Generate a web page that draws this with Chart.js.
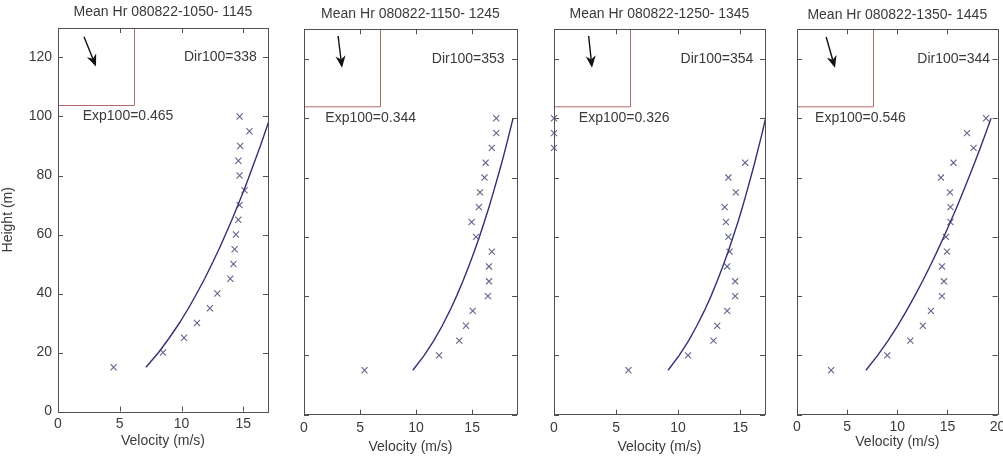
<!DOCTYPE html>
<html>
<head>
<meta charset="utf-8">
<title>Mean hourly wind profiles</title>
<script src="https://cdn.jsdelivr.net/npm/chart.js@4.4.1/dist/chart.umd.min.js"></script>
<style>
  html, body { margin: 0; padding: 0; background: #fff; }
  #wrap { position: relative; width: 1003px; height: 456px; overflow: hidden; }
  #wrap canvas { position: absolute; top: 0; }
</style>
</head>
<body>
<div id="wrap">
  <canvas id="p1" width="282" height="456" style="left:0px"></canvas>
  <canvas id="p2" width="239" height="456" style="left:292px"></canvas>
  <canvas id="p3" width="237" height="456" style="left:542px"></canvas>
  <canvas id="p4" width="218" height="456" style="left:785px"></canvas>
</div>
<script>
// measurement heights (m), shared by every profile
const heights = [15, 20, 25, 30, 35, 40, 45, 50, 55, 60, 65, 70, 75, 80, 85, 90, 95, 100];

const hourTitles = [
  'Mean Hr 080822-1050- 1145',
  'Mean Hr 080822-1150- 1245',
  'Mean Hr 080822-1250- 1345',
  'Mean Hr 080822-1350- 1445'
];
const dir100 = [338, 353, 354, 344];
const exp100 = ['0.465', '0.344', '0.326', '0.546'];
const velMax = [17, 19, 17, 20];

// measured mean velocity (m/s) at each height
const velMeasured1 = [4.5, 8.5, 10.2, 11.25, 12.3, 12.9, 13.95, 14.2, 14.3, 14.4, 14.6, 14.7, 15.1, 14.7, 14.6, 14.75, 15.5, 14.7];
const velMeasured2 = [5.4, 12.05, 13.85, 14.45, 15.05, 16.4, 16.5, 16.5, 16.75, 15.35, 14.95, 15.6, 15.7, 16.1, 16.2, 16.75, 17.15, 17.15];
const velMeasured3 = [6.0, 10.8, 12.85, 13.15, 13.95, 14.6, 14.6, 13.95, 14.15, 14.05, 13.85, 13.75, 14.65, 14.05, 15.4, 0, 0, 0];
const velMeasured4 = [3.4, 9.0, 11.3, 12.55, 13.35, 14.45, 14.65, 14.45, 14.95, 14.85, 15.3, 15.3, 15.25, 14.35, 15.6, 17.6, 16.95, 18.85];

// power-law fit curves
const velFit1 = [7.12, 8.14, 9.02, 9.83, 10.56, 11.23, 11.87, 12.46, 13.03, 13.56, 14.08, 14.57, 15.05, 15.50, 15.94, 16.38, 16.79, 17.2];
const velFit2 = [9.71, 10.72, 11.58, 12.33, 13.00, 13.61, 14.17, 14.69, 15.18, 15.65, 16.08, 16.50, 16.89, 17.27, 17.64, 17.99, 18.32, 18.65];
const velFit3 = [9.19, 10.09, 10.85, 11.51, 12.11, 12.65, 13.14, 13.60, 14.03, 14.43, 14.82, 15.18, 15.52, 15.85, 16.17, 16.47, 16.77, 17.05];
const velFit4 = [6.87, 8.04, 9.08, 10.03, 10.91, 11.73, 12.51, 13.25, 13.96, 14.64, 15.29, 15.93, 16.54, 17.13, 17.71, 18.27, 18.82, 19.35];

const measured = [velMeasured1, velMeasured2, velMeasured3, velMeasured4];
const fits = [velFit1, velFit2, velFit3, velFit4];

const FONT = 'Liberation Sans, Arial, sans-serif';
const TEXT = '#3a3a3a';

// per panel layout
const panels = [
  { id: 'p1', yW: 58, padR: 14, tTop: 3.6, tBot: 7.6, xH: 44.5, tickPad: 4, xTitlePad: 6.6, showY: true, expX: 2.0 },
  { id: 'p2', yW: 12, padR: 14, tTop: 5.4, tBot: 7.1, xH: 41.3, tickPad: 5.2, xTitlePad: 0.9, showY: false, expX: 1.9 },
  { id: 'p3', yW: 12, padR: 14, tTop: 5.6, tBot: 6.9, xH: 41.3, tickPad: 5.2, xTitlePad: 0, showY: false, expX: 2.0 },
  { id: 'p4', yW: 12, padR: 2.5, tTop: 6.6, tBot: 5.9, xH: 41.3, tickPad: 3.6, xTitlePad: 5.5, showY: false, expX: 1.8 }
];

// frame, inward ticks, direction inset and annotation text
const profileDecor = {
  id: 'profileDecor',
  afterDatasetsDraw(chart, args, o) {
    const { ctx, chartArea: a, scales: { x, y } } = chart;
    ctx.save();

    // direction inset
    const bw = 76, bh = 77;
    ctx.strokeStyle = 'rgb(180,105,105)';
    ctx.lineWidth = 1;
    ctx.beginPath();
    ctx.moveTo(a.left + bw + 0.5, a.top);
    ctx.lineTo(a.left + bw + 0.5, a.top + bh + 0.5);
    ctx.lineTo(a.left, a.top + bh + 0.5);
    ctx.stroke();

    const ang = (o.dir + 180) * Math.PI / 180;
    const dx = Math.sin(ang), dy = -Math.cos(ang);
    const hx = a.left + bw / 2, hy = a.top + bh / 2;
    const len = 32, headL = 12, headW = 5;
    ctx.strokeStyle = '#111';
    ctx.fillStyle = '#111';
    ctx.lineWidth = 1.4;
    ctx.beginPath();
    ctx.moveTo(hx - dx * len, hy - dy * len);
    ctx.lineTo(hx - dx * headL * 0.7, hy - dy * headL * 0.7);
    ctx.stroke();
    ctx.beginPath();
    ctx.moveTo(hx, hy);
    ctx.lineTo(hx - dx * headL - dy * headW, hy - dy * headL + dx * headW);
    ctx.lineTo(hx - dx * headL * 0.7, hy - dy * headL * 0.7);
    ctx.lineTo(hx - dx * headL + dy * headW, hy - dy * headL - dx * headW);
    ctx.closePath();
    ctx.fill();

    // axes box
    ctx.strokeStyle = '#505050';
    ctx.lineWidth = 1;
    ctx.strokeRect(Math.round(a.left) + 0.5, Math.round(a.top) + 0.5,
      Math.round(a.right - a.left), Math.round(a.bottom - a.top));

    // inward tick marks on all four sides
    const tl = 5;
    ctx.beginPath();
    x.ticks.forEach(t => {
      const px = Math.round(x.getPixelForValue(t.value)) + 0.5;
      ctx.moveTo(px, a.bottom); ctx.lineTo(px, a.bottom - tl);
      ctx.moveTo(px, a.top); ctx.lineTo(px, a.top + tl);
    });
    y.ticks.forEach(t => {
      const py = Math.round(y.getPixelForValue(t.value)) + 0.5;
      ctx.moveTo(a.left, py); ctx.lineTo(a.left + tl, py);
      ctx.moveTo(a.right, py); ctx.lineTo(a.right - tl, py);
    });
    ctx.stroke();

    // labels
    ctx.fillStyle = TEXT;
    ctx.font = '14px ' + FONT;
    ctx.textAlign = 'left';
    ctx.textBaseline = 'middle';
    ctx.fillText('Dir100=' + o.dir, x.getPixelForValue(0.6 * x.max), y.getPixelForValue(120));
    ctx.fillText('Exp100=' + o.exp, x.getPixelForValue(o.expX), y.getPixelForValue(100));
    ctx.restore();
  }
};

panels.forEach((p, i) => {
  new Chart(document.getElementById(p.id), {
    type: 'scatter',
    data: {
      datasets: [
        {
          label: 'fit',
          data: heights.map((h, k) => ({ x: fits[i][k], y: h })),
          showLine: true,
          pointRadius: 0,
          borderColor: 'rgb(50,50,115)',
          borderWidth: 1.4,
          tension: 0,
          clip: 0
        },
        {
          label: 'measured',
          data: heights.map((h, k) => ({ x: measured[i][k], y: h })),
          pointStyle: 'crossRot',
          pointRadius: 4.3,
          pointBorderWidth: 1.1,
          borderColor: 'rgb(100,100,140)',
          backgroundColor: 'rgb(100,100,140)',
          clip: false
        }
      ]
    },
    options: {
      responsive: false,
      animation: false,
      events: [],
      layout: { padding: { left: 0, right: p.padR, top: 0, bottom: 0 } },
      plugins: {
        legend: { display: false },
        tooltip: { enabled: false },
        title: {
          display: true,
          text: hourTitles[i],
          fullSize: false,
          color: TEXT,
          font: { family: FONT, size: 14, weight: 'normal' },
          padding: { top: p.tTop, bottom: p.tBot }
        },
        profileDecor: { dir: dir100[i], exp: exp100[i], expX: p.expX }
      },
      scales: {
        x: {
          type: 'linear',
          min: 0,
          max: velMax[i],
          grid: { display: false, drawTicks: false },
          border: { display: false },
          ticks: {
            stepSize: 5,
            includeBounds: false,
            maxRotation: 0,
            padding: p.tickPad,
            color: TEXT,
            font: { family: FONT, size: 14 }
          },
          title: {
            display: true,
            text: 'Velocity (m/s)',
            color: TEXT,
            font: { family: FONT, size: 14 },
            padding: { top: 0, bottom: p.xTitlePad }
          },
          afterFit(s) { s.height = p.xH; s.paddingLeft = 0; s.paddingRight = 0; }
        },
        y: {
          type: 'linear',
          min: 0,
          max: 130,
          grid: { display: false, drawTicks: false },
          border: { display: false },
          ticks: {
            display: p.showY,
            stepSize: 20,
            includeBounds: false,
            padding: 6,
            color: TEXT,
            font: { family: FONT, size: 14 }
          },
          title: {
            display: p.showY,
            text: 'Height (m)',
            color: TEXT,
            font: { family: FONT, size: 14 },
            padding: { top: 0, bottom: 0 }
          },
          afterFit(s) { s.width = p.yW; s.paddingTop = 0; s.paddingBottom = 0; }
        }
      }
    },
    plugins: [profileDecor]
  });
});
</script>
</body>
</html>
